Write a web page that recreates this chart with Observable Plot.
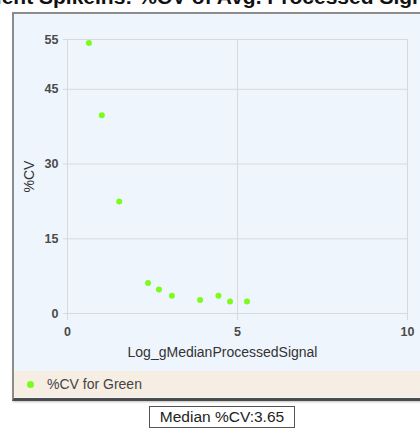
<!DOCTYPE html>
<html>
<head>
<meta charset="utf-8">
<script src="https://cdn.jsdelivr.net/npm/d3@7"></script>
<script src="https://cdn.jsdelivr.net/npm/@observablehq/plot@0.6"></script>
<style>
  html, body { margin: 0; padding: 0; background: #fff; }
  #wrap { position: relative; width: 420px; height: 429px; overflow: hidden; font-family: "Liberation Sans", Arial, sans-serif; }
  #title { position: absolute; left: -38px; top: -14px; white-space: nowrap; font-size: 21px; line-height: 21px; font-weight: bold; color: #111; }
  #panel { position: absolute; left: 12px; top: 12px; width: 440px; height: 384px; background: #eff5fd;
           border-left: 2px solid #8c8c8c; border-top: 2px solid #8c8c8c; border-bottom: 3px solid #4c4c4c;
           box-shadow: 1px 1px 2px rgba(0,0,0,0.25); }
  #legend { position: absolute; left: 14px; top: 371px; width: 420px; height: 26px; background: #f6ede3; }
  #legend .dot { position: absolute; left: 13px; top: 10px; width: 7px; height: 7px; border-radius: 50%; background: #7cfc1c; }
  #legend .txt { position: absolute; left: 33px; top: 5px; font-size: 14px; line-height: 16px; color: #444; }
  #median { position: absolute; left: 149px; top: 406px; width: 144px; height: 20px; border: 1px solid #555; background: #fff;
            font-size: 15.5px; line-height: 20px; text-align: center; color: #222; }
  #chart { position: absolute; left: 0; top: 0; }
</style>
</head>
<body>
<div id="wrap">
  <div id="title"></div>
  <div id="panel"></div>
  <div id="legend"><div class="dot"></div><div class="txt"></div></div>
  <div id="median"></div>
  <div id="chart"></div>
</div>
<script>
const titleText = "Agilent SpikeIns: %CV of Avg. Processed Signal";
const xLabel = "Log_gMedianProcessedSignal";
const yLabel = "%CV";
const seriesName = "%CV for Green";
const medianText = "Median %CV:3.65";

const logSignal = [0.63, 1.01, 1.52, 2.37, 2.69, 3.07, 3.90, 4.44, 4.78, 5.28];
const cvGreen   = [54.3, 39.8, 22.5, 6.1, 4.8, 3.55, 2.7, 3.55, 2.4, 2.4];
const xTicks = [0, 5, 10];
const yTicks = [0, 15, 30, 45, 55];

document.getElementById("title").textContent = titleText;
document.querySelector("#legend .txt").textContent = seriesName;
document.getElementById("median").textContent = medianText;

const data = logSignal.map((x, i) => ({x, y: cvGreen[i]}));

const chart = Plot.plot({
  width: 420,
  height: 429,
  marginLeft: 67,
  marginRight: 13,
  marginTop: 39,
  marginBottom: 116,
  style: {background: "transparent", fontFamily: "Liberation Sans, Arial, sans-serif"},
  x: {domain: [0, 10]},
  y: {domain: [0, 55]},
  marks: [
    Plot.gridX(xTicks, {stroke: "#d9d9d9", strokeOpacity: 1}),
    Plot.gridY(yTicks, {stroke: "#d9d9d9", strokeOpacity: 1}),
    Plot.frame({stroke: "#d9d9d9"}),
    Plot.axisY(yTicks, {tickSize: 4, tickPadding: 5, stroke: "#d9d9d9", fill: "#4a4a4a", fontSize: 12.5, fontWeight: "bold", label: null}),
    Plot.axisX(xTicks, {tickSize: 7, tickPadding: 7, stroke: "#d9d9d9", fill: "#4a4a4a", fontSize: 12.5, fontWeight: "bold", label: null}),
    Plot.text([xLabel], {frameAnchor: "bottom", dx: -15, dy: 43, text: d => d, fontSize: 14, fill: "#333"}),
    Plot.text([yLabel], {frameAnchor: "left", dx: -38, dy: 16, rotate: -90, text: d => d, fontSize: 14, fill: "#333"}),
    Plot.dot(data, {x: "x", y: "y", r: 3, fill: "#7cfc1c", stroke: "none"})
  ]
});
document.getElementById("chart").appendChild(chart);
</script>
</body>
</html>
